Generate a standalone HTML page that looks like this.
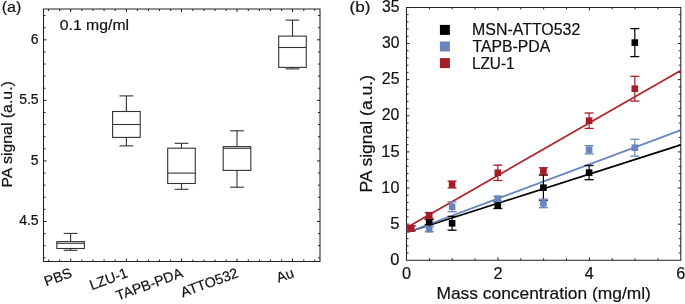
<!DOCTYPE html>
<html><head><meta charset="utf-8"><style>
html,body{margin:0;padding:0;background:#fff;width:685px;height:304px;overflow:hidden}
svg{display:block;will-change:transform}
text{font-family:"Liberation Sans",sans-serif;stroke:#111;stroke-width:0.2px}
</style></head><body>
<svg width="685" height="304" viewBox="0 0 685 304" font-family="Liberation Sans, sans-serif" fill="#111"><path d="M43.5,9.0H320.0V261.5H43.5Z" fill="none" stroke="#222" stroke-width="1.05" stroke-linejoin="miter"/>
<line x1="70.70" y1="261.50" x2="70.70" y2="258.50" stroke="#222" stroke-width="1" />
<line x1="70.70" y1="9.00" x2="70.70" y2="12.00" stroke="#222" stroke-width="1" />
<line x1="126.40" y1="261.50" x2="126.40" y2="258.50" stroke="#222" stroke-width="1" />
<line x1="126.40" y1="9.00" x2="126.40" y2="12.00" stroke="#222" stroke-width="1" />
<line x1="181.50" y1="261.50" x2="181.50" y2="258.50" stroke="#222" stroke-width="1" />
<line x1="181.50" y1="9.00" x2="181.50" y2="12.00" stroke="#222" stroke-width="1" />
<line x1="237.00" y1="261.50" x2="237.00" y2="258.50" stroke="#222" stroke-width="1" />
<line x1="237.00" y1="9.00" x2="237.00" y2="12.00" stroke="#222" stroke-width="1" />
<line x1="292.50" y1="261.50" x2="292.50" y2="258.50" stroke="#222" stroke-width="1" />
<line x1="292.50" y1="9.00" x2="292.50" y2="12.00" stroke="#222" stroke-width="1" />
<line x1="48.61" y1="261.50" x2="48.61" y2="259.50" stroke="#222" stroke-width="1" />
<line x1="48.61" y1="9.00" x2="48.61" y2="11.00" stroke="#222" stroke-width="1" />
<line x1="59.70" y1="261.50" x2="59.70" y2="259.50" stroke="#222" stroke-width="1" />
<line x1="59.70" y1="9.00" x2="59.70" y2="11.00" stroke="#222" stroke-width="1" />
<line x1="81.89" y1="261.50" x2="81.89" y2="259.50" stroke="#222" stroke-width="1" />
<line x1="81.89" y1="9.00" x2="81.89" y2="11.00" stroke="#222" stroke-width="1" />
<line x1="92.99" y1="261.50" x2="92.99" y2="259.50" stroke="#222" stroke-width="1" />
<line x1="92.99" y1="9.00" x2="92.99" y2="11.00" stroke="#222" stroke-width="1" />
<line x1="104.09" y1="261.50" x2="104.09" y2="259.50" stroke="#222" stroke-width="1" />
<line x1="104.09" y1="9.00" x2="104.09" y2="11.00" stroke="#222" stroke-width="1" />
<line x1="115.18" y1="261.50" x2="115.18" y2="259.50" stroke="#222" stroke-width="1" />
<line x1="115.18" y1="9.00" x2="115.18" y2="11.00" stroke="#222" stroke-width="1" />
<line x1="137.37" y1="261.50" x2="137.37" y2="259.50" stroke="#222" stroke-width="1" />
<line x1="137.37" y1="9.00" x2="137.37" y2="11.00" stroke="#222" stroke-width="1" />
<line x1="148.47" y1="261.50" x2="148.47" y2="259.50" stroke="#222" stroke-width="1" />
<line x1="148.47" y1="9.00" x2="148.47" y2="11.00" stroke="#222" stroke-width="1" />
<line x1="159.56" y1="261.50" x2="159.56" y2="259.50" stroke="#222" stroke-width="1" />
<line x1="159.56" y1="9.00" x2="159.56" y2="11.00" stroke="#222" stroke-width="1" />
<line x1="170.66" y1="261.50" x2="170.66" y2="259.50" stroke="#222" stroke-width="1" />
<line x1="170.66" y1="9.00" x2="170.66" y2="11.00" stroke="#222" stroke-width="1" />
<line x1="192.84" y1="261.50" x2="192.84" y2="259.50" stroke="#222" stroke-width="1" />
<line x1="192.84" y1="9.00" x2="192.84" y2="11.00" stroke="#222" stroke-width="1" />
<line x1="203.94" y1="261.50" x2="203.94" y2="259.50" stroke="#222" stroke-width="1" />
<line x1="203.94" y1="9.00" x2="203.94" y2="11.00" stroke="#222" stroke-width="1" />
<line x1="215.04" y1="261.50" x2="215.04" y2="259.50" stroke="#222" stroke-width="1" />
<line x1="215.04" y1="9.00" x2="215.04" y2="11.00" stroke="#222" stroke-width="1" />
<line x1="226.13" y1="261.50" x2="226.13" y2="259.50" stroke="#222" stroke-width="1" />
<line x1="226.13" y1="9.00" x2="226.13" y2="11.00" stroke="#222" stroke-width="1" />
<line x1="248.32" y1="261.50" x2="248.32" y2="259.50" stroke="#222" stroke-width="1" />
<line x1="248.32" y1="9.00" x2="248.32" y2="11.00" stroke="#222" stroke-width="1" />
<line x1="259.42" y1="261.50" x2="259.42" y2="259.50" stroke="#222" stroke-width="1" />
<line x1="259.42" y1="9.00" x2="259.42" y2="11.00" stroke="#222" stroke-width="1" />
<line x1="270.51" y1="261.50" x2="270.51" y2="259.50" stroke="#222" stroke-width="1" />
<line x1="270.51" y1="9.00" x2="270.51" y2="11.00" stroke="#222" stroke-width="1" />
<line x1="281.61" y1="261.50" x2="281.61" y2="259.50" stroke="#222" stroke-width="1" />
<line x1="281.61" y1="9.00" x2="281.61" y2="11.00" stroke="#222" stroke-width="1" />
<line x1="303.80" y1="261.50" x2="303.80" y2="259.50" stroke="#222" stroke-width="1" />
<line x1="303.80" y1="9.00" x2="303.80" y2="11.00" stroke="#222" stroke-width="1" />
<line x1="314.89" y1="261.50" x2="314.89" y2="259.50" stroke="#222" stroke-width="1" />
<line x1="314.89" y1="9.00" x2="314.89" y2="11.00" stroke="#222" stroke-width="1" />
<line x1="43.50" y1="257.83" x2="45.50" y2="257.83" stroke="#222" stroke-width="1" />
<line x1="320.00" y1="257.83" x2="318.00" y2="257.83" stroke="#222" stroke-width="1" />
<line x1="43.50" y1="245.72" x2="45.50" y2="245.72" stroke="#222" stroke-width="1" />
<line x1="320.00" y1="245.72" x2="318.00" y2="245.72" stroke="#222" stroke-width="1" />
<line x1="43.50" y1="233.61" x2="45.50" y2="233.61" stroke="#222" stroke-width="1" />
<line x1="320.00" y1="233.61" x2="318.00" y2="233.61" stroke="#222" stroke-width="1" />
<line x1="43.50" y1="221.50" x2="46.50" y2="221.50" stroke="#222" stroke-width="1" />
<line x1="320.00" y1="221.50" x2="317.00" y2="221.50" stroke="#222" stroke-width="1" />
<line x1="43.50" y1="209.38" x2="45.50" y2="209.38" stroke="#222" stroke-width="1" />
<line x1="320.00" y1="209.38" x2="318.00" y2="209.38" stroke="#222" stroke-width="1" />
<line x1="43.50" y1="197.27" x2="45.50" y2="197.27" stroke="#222" stroke-width="1" />
<line x1="320.00" y1="197.27" x2="318.00" y2="197.27" stroke="#222" stroke-width="1" />
<line x1="43.50" y1="185.16" x2="45.50" y2="185.16" stroke="#222" stroke-width="1" />
<line x1="320.00" y1="185.16" x2="318.00" y2="185.16" stroke="#222" stroke-width="1" />
<line x1="43.50" y1="173.04" x2="45.50" y2="173.04" stroke="#222" stroke-width="1" />
<line x1="320.00" y1="173.04" x2="318.00" y2="173.04" stroke="#222" stroke-width="1" />
<line x1="43.50" y1="160.93" x2="46.50" y2="160.93" stroke="#222" stroke-width="1" />
<line x1="320.00" y1="160.93" x2="317.00" y2="160.93" stroke="#222" stroke-width="1" />
<line x1="43.50" y1="148.82" x2="45.50" y2="148.82" stroke="#222" stroke-width="1" />
<line x1="320.00" y1="148.82" x2="318.00" y2="148.82" stroke="#222" stroke-width="1" />
<line x1="43.50" y1="136.70" x2="45.50" y2="136.70" stroke="#222" stroke-width="1" />
<line x1="320.00" y1="136.70" x2="318.00" y2="136.70" stroke="#222" stroke-width="1" />
<line x1="43.50" y1="124.59" x2="45.50" y2="124.59" stroke="#222" stroke-width="1" />
<line x1="320.00" y1="124.59" x2="318.00" y2="124.59" stroke="#222" stroke-width="1" />
<line x1="43.50" y1="112.48" x2="45.50" y2="112.48" stroke="#222" stroke-width="1" />
<line x1="320.00" y1="112.48" x2="318.00" y2="112.48" stroke="#222" stroke-width="1" />
<line x1="43.50" y1="100.36" x2="46.50" y2="100.36" stroke="#222" stroke-width="1" />
<line x1="320.00" y1="100.36" x2="317.00" y2="100.36" stroke="#222" stroke-width="1" />
<line x1="43.50" y1="88.25" x2="45.50" y2="88.25" stroke="#222" stroke-width="1" />
<line x1="320.00" y1="88.25" x2="318.00" y2="88.25" stroke="#222" stroke-width="1" />
<line x1="43.50" y1="76.14" x2="45.50" y2="76.14" stroke="#222" stroke-width="1" />
<line x1="320.00" y1="76.14" x2="318.00" y2="76.14" stroke="#222" stroke-width="1" />
<line x1="43.50" y1="64.03" x2="45.50" y2="64.03" stroke="#222" stroke-width="1" />
<line x1="320.00" y1="64.03" x2="318.00" y2="64.03" stroke="#222" stroke-width="1" />
<line x1="43.50" y1="51.91" x2="45.50" y2="51.91" stroke="#222" stroke-width="1" />
<line x1="320.00" y1="51.91" x2="318.00" y2="51.91" stroke="#222" stroke-width="1" />
<line x1="43.50" y1="39.80" x2="46.50" y2="39.80" stroke="#222" stroke-width="1" />
<line x1="320.00" y1="39.80" x2="317.00" y2="39.80" stroke="#222" stroke-width="1" />
<line x1="43.50" y1="27.69" x2="45.50" y2="27.69" stroke="#222" stroke-width="1" />
<line x1="320.00" y1="27.69" x2="318.00" y2="27.69" stroke="#222" stroke-width="1" />
<line x1="43.50" y1="15.57" x2="45.50" y2="15.57" stroke="#222" stroke-width="1" />
<line x1="320.00" y1="15.57" x2="318.00" y2="15.57" stroke="#222" stroke-width="1" />
<text x="38.60" y="43.70" font-size="14" text-anchor="end" >6</text>
<text x="38.60" y="104.27" font-size="14" text-anchor="end" >5.5</text>
<text x="38.60" y="164.83" font-size="14" text-anchor="end" >5</text>
<text x="38.60" y="225.40" font-size="14" text-anchor="end" >4.5</text>
<rect x="56.80" y="241.60" width="27.60" height="6.90" fill="none" stroke="#333" stroke-width="1.1"/>
<line x1="56.80" y1="243.30" x2="84.40" y2="243.30" stroke="#333" stroke-width="1.1" />
<line x1="70.60" y1="233.40" x2="70.60" y2="241.60" stroke="#333" stroke-width="1.1" />
<line x1="70.60" y1="248.50" x2="70.60" y2="250.30" stroke="#333" stroke-width="1.1" />
<line x1="63.70" y1="233.40" x2="77.50" y2="233.40" stroke="#333" stroke-width="1.1" />
<line x1="63.70" y1="250.30" x2="77.50" y2="250.30" stroke="#333" stroke-width="1.1" />
<rect x="112.60" y="111.50" width="27.60" height="25.90" fill="none" stroke="#333" stroke-width="1.1"/>
<line x1="112.60" y1="124.50" x2="140.20" y2="124.50" stroke="#333" stroke-width="1.1" />
<line x1="126.40" y1="95.90" x2="126.40" y2="111.50" stroke="#333" stroke-width="1.1" />
<line x1="126.40" y1="137.40" x2="126.40" y2="145.90" stroke="#333" stroke-width="1.1" />
<line x1="119.50" y1="95.90" x2="133.30" y2="95.90" stroke="#333" stroke-width="1.1" />
<line x1="119.50" y1="145.90" x2="133.30" y2="145.90" stroke="#333" stroke-width="1.1" />
<rect x="167.70" y="148.20" width="27.60" height="35.30" fill="none" stroke="#333" stroke-width="1.1"/>
<line x1="167.70" y1="173.10" x2="195.30" y2="173.10" stroke="#333" stroke-width="1.1" />
<line x1="181.50" y1="143.30" x2="181.50" y2="148.20" stroke="#333" stroke-width="1.1" />
<line x1="181.50" y1="183.50" x2="181.50" y2="189.30" stroke="#333" stroke-width="1.1" />
<line x1="174.60" y1="143.30" x2="188.40" y2="143.30" stroke="#333" stroke-width="1.1" />
<line x1="174.60" y1="189.30" x2="188.40" y2="189.30" stroke="#333" stroke-width="1.1" />
<rect x="223.20" y="146.60" width="27.60" height="23.80" fill="none" stroke="#333" stroke-width="1.1"/>
<line x1="223.20" y1="148.30" x2="250.80" y2="148.30" stroke="#333" stroke-width="1.1" />
<line x1="237.00" y1="130.80" x2="237.00" y2="146.60" stroke="#333" stroke-width="1.1" />
<line x1="237.00" y1="170.40" x2="237.00" y2="187.20" stroke="#333" stroke-width="1.1" />
<line x1="230.10" y1="130.80" x2="243.90" y2="130.80" stroke="#333" stroke-width="1.1" />
<line x1="230.10" y1="187.20" x2="243.90" y2="187.20" stroke="#333" stroke-width="1.1" />
<rect x="278.70" y="36.10" width="27.60" height="31.30" fill="none" stroke="#333" stroke-width="1.1"/>
<line x1="278.70" y1="47.50" x2="306.30" y2="47.50" stroke="#333" stroke-width="1.1" />
<line x1="292.50" y1="20.10" x2="292.50" y2="36.10" stroke="#333" stroke-width="1.1" />
<line x1="292.50" y1="67.40" x2="292.50" y2="68.90" stroke="#333" stroke-width="1.1" />
<line x1="285.60" y1="20.10" x2="299.40" y2="20.10" stroke="#333" stroke-width="1.1" />
<line x1="285.60" y1="68.90" x2="299.40" y2="68.90" stroke="#333" stroke-width="1.1" />
<text x="59.78" y="30.00" font-size="15" text-anchor="start" textLength="69.27" lengthAdjust="spacingAndGlyphs" >0.1 mg/ml</text>
<text x="1.70" y="11.70" font-size="15" text-anchor="start" textLength="19.70" lengthAdjust="spacingAndGlyphs" >(a)</text>
<text transform="translate(12.3,0) rotate(-90)" x="-187.58" y="0" font-size="15.5" textLength="106.44" lengthAdjust="spacingAndGlyphs">PA signal (a.u.)</text>
<text transform="translate(73.00,276.8) rotate(-20)" font-size="14.2" text-anchor="end">PBS</text>
<text transform="translate(128.70,276.8) rotate(-20)" font-size="14.2" text-anchor="end">LZU-1</text>
<text transform="translate(183.80,276.8) rotate(-20)" font-size="14.2" text-anchor="end">TAPB-PDA</text>
<text transform="translate(239.30,276.8) rotate(-20)" font-size="14.2" text-anchor="end">ATTO532</text>
<text transform="translate(294.80,276.8) rotate(-20)" font-size="14.2" text-anchor="end">Au</text>
<path d="M406.5,7.4H680.8V260.3H406.5Z" fill="none" stroke="#222" stroke-width="1.05" stroke-linejoin="miter"/>
<line x1="429.36" y1="260.30" x2="429.36" y2="258.30" stroke="#222" stroke-width="1" />
<line x1="429.36" y1="7.40" x2="429.36" y2="9.40" stroke="#222" stroke-width="1" />
<line x1="452.22" y1="260.30" x2="452.22" y2="258.30" stroke="#222" stroke-width="1" />
<line x1="452.22" y1="7.40" x2="452.22" y2="9.40" stroke="#222" stroke-width="1" />
<line x1="475.07" y1="260.30" x2="475.07" y2="258.30" stroke="#222" stroke-width="1" />
<line x1="475.07" y1="7.40" x2="475.07" y2="9.40" stroke="#222" stroke-width="1" />
<line x1="497.93" y1="260.30" x2="497.93" y2="257.30" stroke="#222" stroke-width="1" />
<line x1="497.93" y1="7.40" x2="497.93" y2="10.40" stroke="#222" stroke-width="1" />
<line x1="520.79" y1="260.30" x2="520.79" y2="258.30" stroke="#222" stroke-width="1" />
<line x1="520.79" y1="7.40" x2="520.79" y2="9.40" stroke="#222" stroke-width="1" />
<line x1="543.65" y1="260.30" x2="543.65" y2="258.30" stroke="#222" stroke-width="1" />
<line x1="543.65" y1="7.40" x2="543.65" y2="9.40" stroke="#222" stroke-width="1" />
<line x1="566.51" y1="260.30" x2="566.51" y2="258.30" stroke="#222" stroke-width="1" />
<line x1="566.51" y1="7.40" x2="566.51" y2="9.40" stroke="#222" stroke-width="1" />
<line x1="589.37" y1="260.30" x2="589.37" y2="257.30" stroke="#222" stroke-width="1" />
<line x1="589.37" y1="7.40" x2="589.37" y2="10.40" stroke="#222" stroke-width="1" />
<line x1="612.23" y1="260.30" x2="612.23" y2="258.30" stroke="#222" stroke-width="1" />
<line x1="612.23" y1="7.40" x2="612.23" y2="9.40" stroke="#222" stroke-width="1" />
<line x1="635.08" y1="260.30" x2="635.08" y2="258.30" stroke="#222" stroke-width="1" />
<line x1="635.08" y1="7.40" x2="635.08" y2="9.40" stroke="#222" stroke-width="1" />
<line x1="657.94" y1="260.30" x2="657.94" y2="258.30" stroke="#222" stroke-width="1" />
<line x1="657.94" y1="7.40" x2="657.94" y2="9.40" stroke="#222" stroke-width="1" />
<line x1="406.50" y1="253.07" x2="408.50" y2="253.07" stroke="#222" stroke-width="1" />
<line x1="680.80" y1="253.07" x2="678.80" y2="253.07" stroke="#222" stroke-width="1" />
<line x1="406.50" y1="245.85" x2="408.50" y2="245.85" stroke="#222" stroke-width="1" />
<line x1="680.80" y1="245.85" x2="678.80" y2="245.85" stroke="#222" stroke-width="1" />
<line x1="406.50" y1="238.62" x2="408.50" y2="238.62" stroke="#222" stroke-width="1" />
<line x1="680.80" y1="238.62" x2="678.80" y2="238.62" stroke="#222" stroke-width="1" />
<line x1="406.50" y1="231.40" x2="408.50" y2="231.40" stroke="#222" stroke-width="1" />
<line x1="680.80" y1="231.40" x2="678.80" y2="231.40" stroke="#222" stroke-width="1" />
<line x1="406.50" y1="224.17" x2="409.50" y2="224.17" stroke="#222" stroke-width="1" />
<line x1="680.80" y1="224.17" x2="677.80" y2="224.17" stroke="#222" stroke-width="1" />
<line x1="406.50" y1="216.95" x2="408.50" y2="216.95" stroke="#222" stroke-width="1" />
<line x1="680.80" y1="216.95" x2="678.80" y2="216.95" stroke="#222" stroke-width="1" />
<line x1="406.50" y1="209.72" x2="408.50" y2="209.72" stroke="#222" stroke-width="1" />
<line x1="680.80" y1="209.72" x2="678.80" y2="209.72" stroke="#222" stroke-width="1" />
<line x1="406.50" y1="202.49" x2="408.50" y2="202.49" stroke="#222" stroke-width="1" />
<line x1="680.80" y1="202.49" x2="678.80" y2="202.49" stroke="#222" stroke-width="1" />
<line x1="406.50" y1="195.27" x2="408.50" y2="195.27" stroke="#222" stroke-width="1" />
<line x1="680.80" y1="195.27" x2="678.80" y2="195.27" stroke="#222" stroke-width="1" />
<line x1="406.50" y1="188.04" x2="409.50" y2="188.04" stroke="#222" stroke-width="1" />
<line x1="680.80" y1="188.04" x2="677.80" y2="188.04" stroke="#222" stroke-width="1" />
<line x1="406.50" y1="180.82" x2="408.50" y2="180.82" stroke="#222" stroke-width="1" />
<line x1="680.80" y1="180.82" x2="678.80" y2="180.82" stroke="#222" stroke-width="1" />
<line x1="406.50" y1="173.59" x2="408.50" y2="173.59" stroke="#222" stroke-width="1" />
<line x1="680.80" y1="173.59" x2="678.80" y2="173.59" stroke="#222" stroke-width="1" />
<line x1="406.50" y1="166.37" x2="408.50" y2="166.37" stroke="#222" stroke-width="1" />
<line x1="680.80" y1="166.37" x2="678.80" y2="166.37" stroke="#222" stroke-width="1" />
<line x1="406.50" y1="159.14" x2="408.50" y2="159.14" stroke="#222" stroke-width="1" />
<line x1="680.80" y1="159.14" x2="678.80" y2="159.14" stroke="#222" stroke-width="1" />
<line x1="406.50" y1="151.91" x2="409.50" y2="151.91" stroke="#222" stroke-width="1" />
<line x1="680.80" y1="151.91" x2="677.80" y2="151.91" stroke="#222" stroke-width="1" />
<line x1="406.50" y1="144.69" x2="408.50" y2="144.69" stroke="#222" stroke-width="1" />
<line x1="680.80" y1="144.69" x2="678.80" y2="144.69" stroke="#222" stroke-width="1" />
<line x1="406.50" y1="137.46" x2="408.50" y2="137.46" stroke="#222" stroke-width="1" />
<line x1="680.80" y1="137.46" x2="678.80" y2="137.46" stroke="#222" stroke-width="1" />
<line x1="406.50" y1="130.24" x2="408.50" y2="130.24" stroke="#222" stroke-width="1" />
<line x1="680.80" y1="130.24" x2="678.80" y2="130.24" stroke="#222" stroke-width="1" />
<line x1="406.50" y1="123.01" x2="408.50" y2="123.01" stroke="#222" stroke-width="1" />
<line x1="680.80" y1="123.01" x2="678.80" y2="123.01" stroke="#222" stroke-width="1" />
<line x1="406.50" y1="115.79" x2="409.50" y2="115.79" stroke="#222" stroke-width="1" />
<line x1="680.80" y1="115.79" x2="677.80" y2="115.79" stroke="#222" stroke-width="1" />
<line x1="406.50" y1="108.56" x2="408.50" y2="108.56" stroke="#222" stroke-width="1" />
<line x1="680.80" y1="108.56" x2="678.80" y2="108.56" stroke="#222" stroke-width="1" />
<line x1="406.50" y1="101.33" x2="408.50" y2="101.33" stroke="#222" stroke-width="1" />
<line x1="680.80" y1="101.33" x2="678.80" y2="101.33" stroke="#222" stroke-width="1" />
<line x1="406.50" y1="94.11" x2="408.50" y2="94.11" stroke="#222" stroke-width="1" />
<line x1="680.80" y1="94.11" x2="678.80" y2="94.11" stroke="#222" stroke-width="1" />
<line x1="406.50" y1="86.88" x2="408.50" y2="86.88" stroke="#222" stroke-width="1" />
<line x1="680.80" y1="86.88" x2="678.80" y2="86.88" stroke="#222" stroke-width="1" />
<line x1="406.50" y1="79.66" x2="409.50" y2="79.66" stroke="#222" stroke-width="1" />
<line x1="680.80" y1="79.66" x2="677.80" y2="79.66" stroke="#222" stroke-width="1" />
<line x1="406.50" y1="72.43" x2="408.50" y2="72.43" stroke="#222" stroke-width="1" />
<line x1="680.80" y1="72.43" x2="678.80" y2="72.43" stroke="#222" stroke-width="1" />
<line x1="406.50" y1="65.21" x2="408.50" y2="65.21" stroke="#222" stroke-width="1" />
<line x1="680.80" y1="65.21" x2="678.80" y2="65.21" stroke="#222" stroke-width="1" />
<line x1="406.50" y1="57.98" x2="408.50" y2="57.98" stroke="#222" stroke-width="1" />
<line x1="680.80" y1="57.98" x2="678.80" y2="57.98" stroke="#222" stroke-width="1" />
<line x1="406.50" y1="50.75" x2="408.50" y2="50.75" stroke="#222" stroke-width="1" />
<line x1="680.80" y1="50.75" x2="678.80" y2="50.75" stroke="#222" stroke-width="1" />
<line x1="406.50" y1="43.53" x2="409.50" y2="43.53" stroke="#222" stroke-width="1" />
<line x1="680.80" y1="43.53" x2="677.80" y2="43.53" stroke="#222" stroke-width="1" />
<line x1="406.50" y1="36.30" x2="408.50" y2="36.30" stroke="#222" stroke-width="1" />
<line x1="680.80" y1="36.30" x2="678.80" y2="36.30" stroke="#222" stroke-width="1" />
<line x1="406.50" y1="29.08" x2="408.50" y2="29.08" stroke="#222" stroke-width="1" />
<line x1="680.80" y1="29.08" x2="678.80" y2="29.08" stroke="#222" stroke-width="1" />
<line x1="406.50" y1="21.85" x2="408.50" y2="21.85" stroke="#222" stroke-width="1" />
<line x1="680.80" y1="21.85" x2="678.80" y2="21.85" stroke="#222" stroke-width="1" />
<line x1="406.50" y1="14.63" x2="408.50" y2="14.63" stroke="#222" stroke-width="1" />
<line x1="680.80" y1="14.63" x2="678.80" y2="14.63" stroke="#222" stroke-width="1" />
<text x="390.25" y="264.90" font-size="16.5" text-anchor="start" textLength="9.19" lengthAdjust="spacingAndGlyphs" >0</text>
<text x="390.23" y="228.77" font-size="16.5" text-anchor="start" textLength="9.27" lengthAdjust="spacingAndGlyphs" >5</text>
<text x="381.36" y="192.64" font-size="16.5" text-anchor="start" textLength="18.07" lengthAdjust="spacingAndGlyphs" >10</text>
<text x="381.36" y="156.51" font-size="16.5" text-anchor="start" textLength="18.13" lengthAdjust="spacingAndGlyphs" >15</text>
<text x="381.80" y="120.39" font-size="16.5" text-anchor="start" textLength="17.62" lengthAdjust="spacingAndGlyphs" >20</text>
<text x="381.80" y="84.26" font-size="16.5" text-anchor="start" textLength="17.67" lengthAdjust="spacingAndGlyphs" >25</text>
<text x="382.00" y="48.13" font-size="16.5" text-anchor="start" textLength="17.41" lengthAdjust="spacingAndGlyphs" >30</text>
<text x="382.00" y="12.00" font-size="16.5" text-anchor="start" textLength="17.46" lengthAdjust="spacingAndGlyphs" >35</text>
<text x="406.50" y="278.80" font-size="16.3" text-anchor="middle" >0</text>
<text x="497.93" y="278.80" font-size="16.3" text-anchor="middle" >2</text>
<text x="589.37" y="278.80" font-size="16.3" text-anchor="middle" >4</text>
<text x="680.80" y="278.80" font-size="16.3" text-anchor="middle" >6</text>
<text x="436.47" y="299.00" font-size="17" text-anchor="start" textLength="214.40" lengthAdjust="spacingAndGlyphs" >Mass concentration (mg/ml)</text>
<text transform="translate(371.8,0) rotate(-90)" x="-192.61" y="0" font-size="16" textLength="117.58" lengthAdjust="spacingAndGlyphs">PA signal (a.u.)</text>
<text x="349.54" y="11.60" font-size="15.5" text-anchor="start" textLength="20.92" lengthAdjust="spacingAndGlyphs" >(b)</text>
<line x1="406.50" y1="232.50" x2="680.80" y2="144.90" stroke="#000" stroke-width="1.7" />
<line x1="406.50" y1="232.70" x2="680.80" y2="130.10" stroke="#6a85be" stroke-width="1.7" />
<line x1="406.50" y1="227.80" x2="680.80" y2="70.50" stroke="#b0222b" stroke-width="1.7" />
<line x1="410.90" y1="225.80" x2="410.90" y2="230.80" stroke="#000" stroke-width="1.2" />
<line x1="406.40" y1="225.80" x2="415.40" y2="225.80" stroke="#000" stroke-width="1.3" />
<line x1="406.40" y1="230.80" x2="415.40" y2="230.80" stroke="#000" stroke-width="1.3" />
<rect x="407.60" y="225.00" width="6.6" height="6.6" fill="#000"/>
<line x1="429.20" y1="219.50" x2="429.20" y2="224.50" stroke="#000" stroke-width="1.2" />
<line x1="424.70" y1="219.50" x2="433.70" y2="219.50" stroke="#000" stroke-width="1.3" />
<line x1="424.70" y1="224.50" x2="433.70" y2="224.50" stroke="#000" stroke-width="1.3" />
<rect x="425.90" y="218.70" width="6.6" height="6.6" fill="#000"/>
<line x1="452.10" y1="216.40" x2="452.10" y2="230.20" stroke="#000" stroke-width="1.2" />
<line x1="447.60" y1="216.40" x2="456.60" y2="216.40" stroke="#000" stroke-width="1.3" />
<line x1="447.60" y1="230.20" x2="456.60" y2="230.20" stroke="#000" stroke-width="1.3" />
<rect x="448.80" y="220.00" width="6.6" height="6.6" fill="#000"/>
<line x1="497.80" y1="201.50" x2="497.80" y2="208.50" stroke="#000" stroke-width="1.2" />
<line x1="493.30" y1="201.50" x2="502.30" y2="201.50" stroke="#000" stroke-width="1.3" />
<line x1="493.30" y1="208.50" x2="502.30" y2="208.50" stroke="#000" stroke-width="1.3" />
<rect x="494.50" y="201.70" width="6.6" height="6.6" fill="#000"/>
<line x1="543.40" y1="175.10" x2="543.40" y2="200.30" stroke="#000" stroke-width="1.2" />
<line x1="538.90" y1="175.10" x2="547.90" y2="175.10" stroke="#000" stroke-width="1.3" />
<line x1="538.90" y1="200.30" x2="547.90" y2="200.30" stroke="#000" stroke-width="1.3" />
<rect x="540.10" y="184.40" width="6.6" height="6.6" fill="#000"/>
<line x1="589.10" y1="165.50" x2="589.10" y2="179.70" stroke="#000" stroke-width="1.2" />
<line x1="584.60" y1="165.50" x2="593.60" y2="165.50" stroke="#000" stroke-width="1.3" />
<line x1="584.60" y1="179.70" x2="593.60" y2="179.70" stroke="#000" stroke-width="1.3" />
<rect x="585.80" y="169.30" width="6.6" height="6.6" fill="#000"/>
<line x1="634.80" y1="28.60" x2="634.80" y2="56.60" stroke="#000" stroke-width="1.2" />
<line x1="630.30" y1="28.60" x2="639.30" y2="28.60" stroke="#000" stroke-width="1.3" />
<line x1="630.30" y1="56.60" x2="639.30" y2="56.60" stroke="#000" stroke-width="1.3" />
<rect x="631.50" y="39.30" width="6.6" height="6.6" fill="#000"/>
<line x1="410.90" y1="225.80" x2="410.90" y2="230.80" stroke="#6a85be" stroke-width="1.2" />
<line x1="406.40" y1="225.80" x2="415.40" y2="225.80" stroke="#6a85be" stroke-width="1.3" />
<line x1="406.40" y1="230.80" x2="415.40" y2="230.80" stroke="#6a85be" stroke-width="1.3" />
<rect x="407.60" y="225.00" width="6.6" height="6.6" fill="#6a85be"/>
<line x1="429.20" y1="226.70" x2="429.20" y2="231.70" stroke="#6a85be" stroke-width="1.2" />
<line x1="424.70" y1="226.70" x2="433.70" y2="226.70" stroke="#6a85be" stroke-width="1.3" />
<line x1="424.70" y1="231.70" x2="433.70" y2="231.70" stroke="#6a85be" stroke-width="1.3" />
<rect x="425.90" y="225.90" width="6.6" height="6.6" fill="#6a85be"/>
<line x1="452.10" y1="201.90" x2="452.10" y2="211.70" stroke="#6a85be" stroke-width="1.2" />
<line x1="447.60" y1="201.90" x2="456.60" y2="201.90" stroke="#6a85be" stroke-width="1.3" />
<line x1="447.60" y1="211.70" x2="456.60" y2="211.70" stroke="#6a85be" stroke-width="1.3" />
<rect x="448.80" y="203.50" width="6.6" height="6.6" fill="#6a85be"/>
<line x1="497.80" y1="196.30" x2="497.80" y2="201.30" stroke="#6a85be" stroke-width="1.2" />
<line x1="493.30" y1="196.30" x2="502.30" y2="196.30" stroke="#6a85be" stroke-width="1.3" />
<line x1="493.30" y1="201.30" x2="502.30" y2="201.30" stroke="#6a85be" stroke-width="1.3" />
<rect x="494.50" y="195.50" width="6.6" height="6.6" fill="#6a85be"/>
<line x1="543.40" y1="199.10" x2="543.40" y2="207.70" stroke="#6a85be" stroke-width="1.2" />
<line x1="538.90" y1="199.10" x2="547.90" y2="199.10" stroke="#6a85be" stroke-width="1.3" />
<line x1="538.90" y1="207.70" x2="547.90" y2="207.70" stroke="#6a85be" stroke-width="1.3" />
<rect x="540.10" y="200.10" width="6.6" height="6.6" fill="#6a85be"/>
<line x1="589.10" y1="145.65" x2="589.10" y2="153.95" stroke="#6a85be" stroke-width="1.2" />
<line x1="584.60" y1="145.65" x2="593.60" y2="145.65" stroke="#6a85be" stroke-width="1.3" />
<line x1="584.60" y1="153.95" x2="593.60" y2="153.95" stroke="#6a85be" stroke-width="1.3" />
<rect x="585.80" y="146.50" width="6.6" height="6.6" fill="#6a85be"/>
<line x1="634.80" y1="139.25" x2="634.80" y2="156.15" stroke="#6a85be" stroke-width="1.2" />
<line x1="630.30" y1="139.25" x2="639.30" y2="139.25" stroke="#6a85be" stroke-width="1.3" />
<line x1="630.30" y1="156.15" x2="639.30" y2="156.15" stroke="#6a85be" stroke-width="1.3" />
<rect x="631.50" y="144.40" width="6.6" height="6.6" fill="#6a85be"/>
<line x1="410.90" y1="225.80" x2="410.90" y2="230.80" stroke="#a51c24" stroke-width="1.2" />
<line x1="406.40" y1="225.80" x2="415.40" y2="225.80" stroke="#a51c24" stroke-width="1.3" />
<line x1="406.40" y1="230.80" x2="415.40" y2="230.80" stroke="#a51c24" stroke-width="1.3" />
<rect x="407.60" y="225.00" width="6.6" height="6.6" fill="#a51c24"/>
<line x1="429.20" y1="212.50" x2="429.20" y2="218.50" stroke="#a51c24" stroke-width="1.2" />
<line x1="424.70" y1="212.50" x2="433.70" y2="212.50" stroke="#a51c24" stroke-width="1.3" />
<line x1="424.70" y1="218.50" x2="433.70" y2="218.50" stroke="#a51c24" stroke-width="1.3" />
<rect x="425.90" y="212.20" width="6.6" height="6.6" fill="#a51c24"/>
<line x1="452.10" y1="181.05" x2="452.10" y2="187.95" stroke="#a51c24" stroke-width="1.2" />
<line x1="447.60" y1="181.05" x2="456.60" y2="181.05" stroke="#a51c24" stroke-width="1.3" />
<line x1="447.60" y1="187.95" x2="456.60" y2="187.95" stroke="#a51c24" stroke-width="1.3" />
<rect x="448.80" y="181.20" width="6.6" height="6.6" fill="#a51c24"/>
<line x1="497.80" y1="165.10" x2="497.80" y2="180.50" stroke="#a51c24" stroke-width="1.2" />
<line x1="493.30" y1="165.10" x2="502.30" y2="165.10" stroke="#a51c24" stroke-width="1.3" />
<line x1="493.30" y1="180.50" x2="502.30" y2="180.50" stroke="#a51c24" stroke-width="1.3" />
<rect x="494.50" y="169.50" width="6.6" height="6.6" fill="#a51c24"/>
<line x1="543.40" y1="167.75" x2="543.40" y2="174.65" stroke="#a51c24" stroke-width="1.2" />
<line x1="538.90" y1="167.75" x2="547.90" y2="167.75" stroke="#a51c24" stroke-width="1.3" />
<line x1="538.90" y1="174.65" x2="547.90" y2="174.65" stroke="#a51c24" stroke-width="1.3" />
<rect x="540.10" y="167.90" width="6.6" height="6.6" fill="#a51c24"/>
<line x1="589.10" y1="113.00" x2="589.10" y2="128.40" stroke="#a51c24" stroke-width="1.2" />
<line x1="584.60" y1="113.00" x2="593.60" y2="113.00" stroke="#a51c24" stroke-width="1.3" />
<line x1="584.60" y1="128.40" x2="593.60" y2="128.40" stroke="#a51c24" stroke-width="1.3" />
<rect x="585.80" y="117.40" width="6.6" height="6.6" fill="#a51c24"/>
<line x1="634.80" y1="76.35" x2="634.80" y2="101.05" stroke="#a51c24" stroke-width="1.2" />
<line x1="630.30" y1="76.35" x2="639.30" y2="76.35" stroke="#a51c24" stroke-width="1.3" />
<line x1="630.30" y1="101.05" x2="639.30" y2="101.05" stroke="#a51c24" stroke-width="1.3" />
<rect x="631.50" y="85.40" width="6.6" height="6.6" fill="#a51c24"/>
<rect x="439.9" y="24.90" width="10" height="10" fill="#000"/>
<text x="472.11" y="35.10" font-size="16.3" text-anchor="start" textLength="108.18" lengthAdjust="spacingAndGlyphs" >MSN-ATTO532</text>
<rect x="439.9" y="41.50" width="10" height="10" fill="#6a85be"/>
<text x="472.45" y="52.00" font-size="16.3" text-anchor="start" textLength="77.88" lengthAdjust="spacingAndGlyphs" >TAPB-PDA</text>
<rect x="439.9" y="58.10" width="10" height="10" fill="#a51c24"/>
<text x="471.94" y="68.90" font-size="16.3" text-anchor="start" textLength="42.61" lengthAdjust="spacingAndGlyphs" >LZU-1</text></svg>
</body></html>
